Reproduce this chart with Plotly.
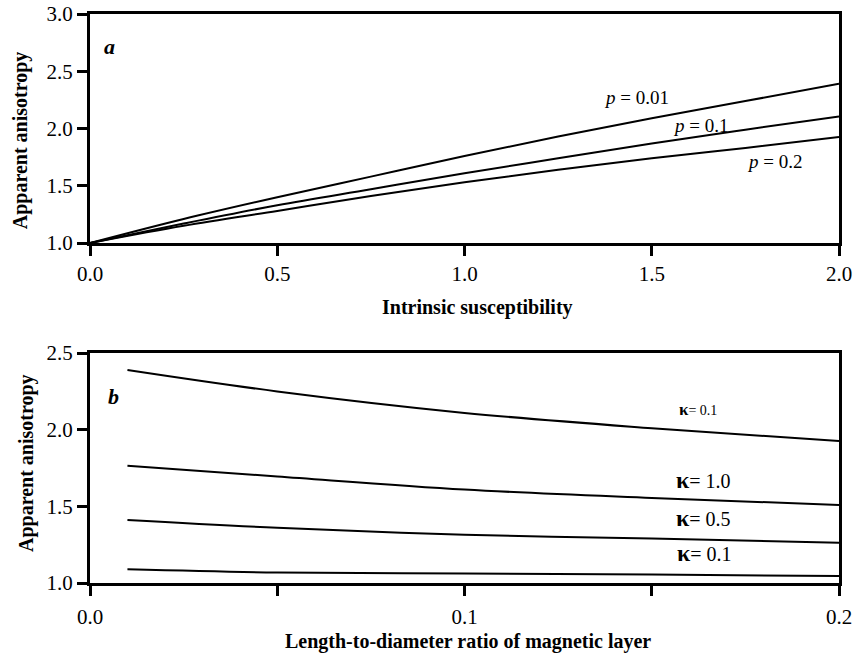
import plotly.graph_objects as go
from plotly.subplots import make_subplots

# Panel a: apparent anisotropy vs intrinsic susceptibility
chi = [0.0, 0.25, 0.5, 0.75, 1.0, 1.25, 1.5, 1.75, 2.0]
a_p001 = [1.0, 1.21, 1.40, 1.58, 1.76, 1.93, 2.09, 2.24, 2.39]
a_p01 = [1.0, 1.17, 1.33, 1.47, 1.61, 1.74, 1.87, 1.99, 2.105]
a_p02 = [1.0, 1.15, 1.28, 1.41, 1.53, 1.64, 1.74, 1.83, 1.925]
a_labels = ["<i>p</i> = 0.01", "<i>p</i> = 0.1", "<i>p</i> = 0.2"]

# Panel b: apparent anisotropy vs length-to-diameter ratio
ratio = [0.01, 0.05, 0.1, 0.15, 0.2]
b_top = [2.39, 2.25, 2.11, 2.01, 1.926]
b_k10 = [1.765, 1.695, 1.61, 1.555, 1.509]
b_k05 = [1.411, 1.36, 1.315, 1.29, 1.263]
b_k01 = [1.089, 1.068, 1.062, 1.055, 1.046]

a_yticks = [1.0, 1.5, 2.0, 2.5, 3.0]
a_xticks = [0.0, 0.5, 1.0, 1.5, 2.0]
b_yticks = [1.0, 1.5, 2.0, 2.5]
b_xticks = [0.0, 0.05, 0.1, 0.15, 0.2]
b_xticktext = ["0.0", "", "0.1", "", "0.2"]

FONT = "Liberation Serif, Times New Roman, serif"

fig = make_subplots(rows=2, cols=1)

for ys in (a_p001, a_p01, a_p02):
    fig.add_trace(go.Scatter(x=chi, y=ys, mode="lines", line=dict(color="black", width=2),
                             line_shape="spline", showlegend=False), row=1, col=1)
for ys in (b_top, b_k10, b_k05, b_k01):
    fig.add_trace(go.Scatter(x=ratio, y=ys, mode="lines", line=dict(color="black", width=2),
                             line_shape="spline", showlegend=False), row=2, col=1)

axis_common = dict(showline=True, linecolor="black", linewidth=3, mirror=True,
                   ticks="outside", ticklen=10, tickwidth=3, tickcolor="black",
                   showgrid=False, zeroline=False, automargin=False,
                   tickfont=dict(family=FONT, size=21, color="black"))

fig.update_xaxes(range=[0, 2.0], tickvals=a_xticks, ticktext=[f"{v:.1f}" for v in a_xticks],
                 domain=[0, 1], row=1, col=1, **axis_common)
fig.update_yaxes(range=[1.0, 3.0], tickvals=a_yticks, ticktext=[f"{v:.1f}" for v in a_yticks],
                 domain=[0.5975, 1.0], ticklabelstandoff=0, row=1, col=1, **axis_common)
fig.update_xaxes(range=[0, 0.2], tickvals=b_xticks, ticktext=b_xticktext,
                 domain=[0, 1], ticklabelstandoff=3, row=2, col=1, **axis_common)
fig.update_yaxes(range=[1.0, 2.5], tickvals=b_yticks, ticktext=[f"{v:.1f}" for v in b_yticks],
                 domain=[0.0, 0.404], ticklabelstandoff=0, row=2, col=1, **axis_common)

annots = []
bold_font = dict(family=FONT, size=20, color="black")
C = dict(xanchor="center", yanchor="middle", showarrow=False)
# axis titles
annots.append(dict(text="<b>Apparent anisotropy</b>", xref="paper", yref="paper",
                   x=-0.0935, y=0.778, textangle=-90, font=bold_font, **C))
annots.append(dict(text="<b>Apparent anisotropy</b>", xref="paper", yref="paper",
                   x=-0.084, y=0.211, textangle=-90, font=bold_font, **C))
annots.append(dict(text="<b>Intrinsic susceptibility</b>", xref="paper", yref="paper",
                   x=0.518, y=0.485, font=bold_font, **C))
annots.append(dict(text="<b>Length-to-diameter ratio of magnetic layer</b>", xref="paper",
                   yref="paper", x=0.505, y=-0.102, font=bold_font, **C))
# panel letters
annots.append(dict(text="<b><i>a</i></b>", xref="x", yref="y", x=0.053, y=2.72,
                   font=dict(family=FONT, size=22, color="black"), **C))
annots.append(dict(text="<b><i>b</i></b>", xref="x2", yref="y2", x=0.0062, y=2.22,
                   font=dict(family=FONT, size=22, color="black"), **C))
# curve labels panel a
lab_font = dict(family=FONT, size=19, color="black")
for txt, (xx, yy) in zip(a_labels, [(1.458, 2.27), (1.629, 2.03), (1.829, 1.71)]):
    annots.append(dict(text=txt, xref="x", yref="y", x=xx, y=yy, font=lab_font, **C))
# curve labels panel b
annots.append(dict(text="<b><span style='font-size:17px'>κ</span></b>= 0.1", xref="x2", yref="y2",
                   x=0.1623, y=2.135, font=dict(family=FONT, size=14, color="black"), **C))
for txt, (xx, yy) in zip(["<b><span style='font-size:24px'>κ</span></b>= 1.0",
                          "<b><span style='font-size:24px'>κ</span></b>= 0.5",
                          "<b><span style='font-size:24px'>κ</span></b>= 0.1"],
                         [(0.1637, 1.672), (0.1637, 1.424), (0.1642, 1.196)]):
    annots.append(dict(text=txt, xref="x2", yref="y2", x=xx, y=yy,
                       font=dict(family=FONT, size=20, color="black"), **C))

fig.update_layout(width=855, height=656, margin=dict(l=90, r=16, t=14, b=73),
                  paper_bgcolor="white", plot_bgcolor="white", annotations=annots,
                  font=dict(family=FONT, color="black"))

fig.write_html("out.html")
